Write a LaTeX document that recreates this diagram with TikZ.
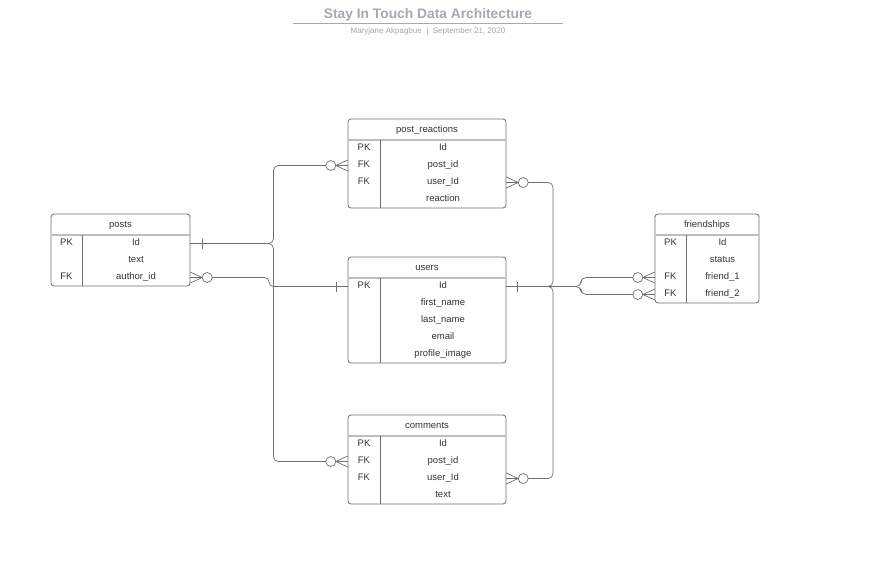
\documentclass[tikz,border=0pt]{standalone}
\usepackage{fontspec}
\setmainfont{Liberation Sans}
\usepackage{xcolor}
\definecolor{edge}{HTML}{6E6E6E}
\definecolor{ink}{HTML}{333333}
\definecolor{sepgray}{HTML}{BDBDBD}
\definecolor{titlegray}{HTML}{A4A9B2}
\definecolor{subgray}{HTML}{A6A6A6}
\tikzset{
  tbl/.style={draw=edge, line width=0.8pt, rounded corners=3pt},
  hsep/.style={draw=sepgray, line width=1.5pt},
  col/.style={draw=edge, line width=0.8pt},
  cell/.style={inner sep=0pt, minimum height=17pt, minimum width=#1, text height=6pt, text depth=3pt, font=\fontsize{9.5}{11}\selectfont, text=ink},
  link/.style={draw=edge, line width=0.7pt, rounded corners=5pt},
  crow/.style={draw=edge, line width=0.7pt},
  zero/.style={circle, draw=edge, fill=white, line width=0.7pt, minimum size=10pt, inner sep=0pt},
}
\begin{document}
\begin{tikzpicture}[x=1pt,y=-1pt]
\useasboundingbox (0,0) rectangle (877,567);
\node[anchor=base, font=\bfseries\fontsize{13.8}{16}\selectfont, text=titlegray] (title) at (428,18.6) {Stay In Touch Data Architecture};
\draw[draw=titlegray, line width=0.8pt] (292.5,23.3) -- (562.5,23.3);
\node[anchor=base, font=\fontsize{8}{9}\selectfont, text=subgray] (byline) at (428,33.5) {Maryjane Akpagbue \ | \ September 21, 2020};

\draw[tbl] (51,214) rectangle (190,286);
\draw[hsep] (51,235) -- (190,235);
\draw[col] (82,235) -- (82,286);
\node[cell=139pt] (p) at (120.5,225.5) {posts};
\node[cell=31pt] (p-id-k) at (66.5,243.5) {PK};
\node[cell=108pt] (p-id) at (136,243.5) {Id};
\node[cell=108pt] (p-text) at (136,260.5) {text};
\node[cell=31pt] (p-author-k) at (66.5,277.5) {FK};
\node[cell=108pt] (p-author) at (136,277.5) {author\_id};

\draw[tbl] (348,119) rectangle (506,208);
\draw[hsep] (348,140) -- (506,140);
\draw[col] (380,140) -- (380,208);
\node[cell=158pt] (pr) at (427,130.5) {post\_reactions};
\node[cell=32pt] (pr-id-k) at (364,148.5) {PK};
\node[cell=126pt] (pr-id) at (443,148.5) {Id};
\node[cell=32pt] (pr-post-k) at (364,165.5) {FK};
\node[cell=126pt] (pr-post) at (443,165.5) {post\_id};
\node[cell=32pt] (pr-user-k) at (364,182.5) {FK};
\node[cell=126pt] (pr-user) at (443,182.5) {user\_Id};
\node[cell=126pt] (pr-reaction) at (443,199.5) {reaction};

\draw[tbl] (348,257) rectangle (506,363);
\draw[hsep] (348,278) -- (506,278);
\draw[col] (380,278) -- (380,363);
\node[cell=158pt] (u) at (427,268.5) {users};
\node[cell=32pt] (u-id-k) at (364,286.5) {PK};
\node[cell=126pt] (u-id) at (443,286.5) {Id};
\node[cell=126pt] (u-first) at (443,303.5) {first\_name};
\node[cell=126pt] (u-last) at (443,320.5) {last\_name};
\node[cell=126pt] (u-email) at (443,337.5) {email};
\node[cell=126pt] (u-image) at (443,354.5) {profile\_image};

\draw[tbl] (348,415) rectangle (506,504);
\draw[hsep] (348,436) -- (506,436);
\draw[col] (380,436) -- (380,504);
\node[cell=158pt] (c) at (427,426.5) {comments};
\node[cell=32pt] (c-id-k) at (364,444.5) {PK};
\node[cell=126pt] (c-id) at (443,444.5) {Id};
\node[cell=32pt] (c-post-k) at (364,461.5) {FK};
\node[cell=126pt] (c-post) at (443,461.5) {post\_id};
\node[cell=32pt] (c-user-k) at (364,478.5) {FK};
\node[cell=126pt] (c-user) at (443,478.5) {user\_Id};
\node[cell=126pt] (c-text) at (443,495.5) {text};

\draw[tbl] (655,214) rectangle (759,303);
\draw[hsep] (655,235) -- (759,235);
\draw[col] (686,235) -- (686,303);
\node[cell=104pt] (f) at (707,225.5) {friendships};
\node[cell=31pt] (f-id-k) at (670.5,243.5) {PK};
\node[cell=73pt] (f-id) at (722.5,243.5) {Id};
\node[cell=73pt] (f-status) at (722.5,260.5) {status};
\node[cell=31pt] (f-one-k) at (670.5,277.5) {FK};
\node[cell=73pt] (f-one) at (722.5,277.5) {friend\_1};
\node[cell=31pt] (f-two-k) at (670.5,294.5) {FK};
\node[cell=73pt] (f-two) at (722.5,294.5) {friend\_2};

\coordinate (lbus) at (273.5,0);
\coordinate (jog) at (269,0);
\coordinate (rbus) at (553,0);
\coordinate (fbus) at (581,0);
\draw[link] (p-id.east) -| (lbus |- pr-post-k.west) -- (pr-post-k.west);
\draw[link] (p-id.east) -| (lbus |- c-post-k.west) -- (c-post-k.west);
\draw[link, rounded corners=4.5pt] (p-author.east) -| (jog |- u-id-k.west) -- (u-id-k.west);
\draw[link] (u-id.east) -| (rbus |- pr-user.east) -- (pr-user.east);
\draw[link] (u-id.east) -| (rbus |- c-user.east) -- (c-user.east);
\draw[link] (u-id.east) -| (fbus |- f-one-k.west) -- (f-one-k.west);
\draw[link] (u-id.east) -| (fbus |- f-two-k.west) -- (f-two-k.west);

\draw[crow] ([xshift=12pt]p-id.east) ++(0,-5) -- ++(0,10);
\draw[crow] ([xshift=-11pt]u-id-k.west) ++(0,-5) -- ++(0,10);
\draw[crow] ([xshift=11pt]u-id.east) ++(0,-5) -- ++(0,10);

\draw[crow] ([yshift=-5.5pt]p-author.east) -- ([xshift=12pt]p-author.east) -- ([yshift=5.5pt]p-author.east);
\node[zero] (p-author-o) at ([xshift=17pt]p-author.east) {};
\draw[crow] ([yshift=-5.5pt]pr-user.east) -- ([xshift=12pt]pr-user.east) -- ([yshift=5.5pt]pr-user.east);
\node[zero] (pr-user-o) at ([xshift=17pt]pr-user.east) {};
\draw[crow] ([yshift=-5.5pt]c-user.east) -- ([xshift=12pt]c-user.east) -- ([yshift=5.5pt]c-user.east);
\node[zero] (c-user-o) at ([xshift=17pt]c-user.east) {};
\draw[crow] ([yshift=-5.5pt]pr-post-k.west) -- ([xshift=-12pt]pr-post-k.west) -- ([yshift=5.5pt]pr-post-k.west);
\node[zero] (pr-post-o) at ([xshift=-17pt]pr-post-k.west) {};
\draw[crow] ([yshift=-5.5pt]c-post-k.west) -- ([xshift=-12pt]c-post-k.west) -- ([yshift=5.5pt]c-post-k.west);
\node[zero] (c-post-o) at ([xshift=-17pt]c-post-k.west) {};
\draw[crow] ([yshift=-5.5pt]f-one-k.west) -- ([xshift=-12pt]f-one-k.west) -- ([yshift=5.5pt]f-one-k.west);
\node[zero] (f-one-o) at ([xshift=-17pt]f-one-k.west) {};
\draw[crow] ([yshift=-5.5pt]f-two-k.west) -- ([xshift=-12pt]f-two-k.west) -- ([yshift=5.5pt]f-two-k.west);
\node[zero] (f-two-o) at ([xshift=-17pt]f-two-k.west) {};
\end{tikzpicture}
\end{document}
